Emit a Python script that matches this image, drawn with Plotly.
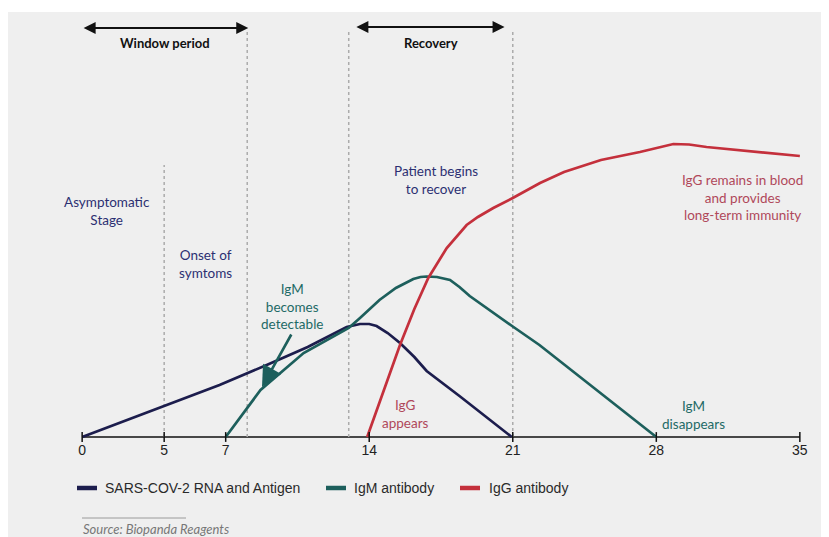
import plotly.graph_objects as go

# ---------------- data ----------------
SARS_X = [0, 4, 6.7, 9, 11, 12.9, 13.55, 14.0, 14.36, 14.9, 15.5, 16.2, 16.8, 18.4, 20.95]
SARS_Y = [0, 31, 52, 72, 90, 110, 113, 113, 111, 104, 94, 80, 66, 41, 0]

IGM_X = [7.0, 8.7, 10.8, 13.0, 13.55, 14.5, 15.3, 15.85, 16.15, 16.5, 16.8, 17.3, 17.94, 18.4, 18.9, 21.0, 22.3, 28.0]
IGM_Y = [0, 47, 84, 109, 119, 137, 149, 155, 158, 160, 160.5, 160, 157, 150, 141, 110.5, 92, 0]

IGG_X = [13.9, 14.7, 15.5, 16.2, 16.88, 17.78, 18.75, 19.3, 20.05, 21.0, 22.33, 23.5, 25.3, 27.2, 28.0, 28.83, 29.6, 30.45, 35.0]
IGG_Y = [0, 45, 92, 128, 159, 189, 212, 220, 229, 239, 254, 265, 277, 285, 289, 293, 292.5, 290, 281]

SERIES_NAMES = ["SARS-COV-2 RNA and Antigen", "IgM antibody", "IgG antibody"]
SERIES_COLORS = ["#1c1d4d", "#1d5f5c", "#c4303c"]

TICK_POS = [0, 4, 7, 14, 21, 28, 35]
TICK_LABELS = ["0", "5", "7", "14", "21", "28", "35"]

# dotted phase markers: (day position, top height)
MARKERS_X = [4, 8.05, 13.0, 21.0]
MARKERS_TOP = [272, 407, 407, 407]

NAVY_T = "#2c2f72"
TEAL_T = "#1e6a66"
RED_T = "#b0485a"

FONT = "Lato, 'Open Sans', sans-serif"
SANS = "'Liberation Sans', Arial, sans-serif"

# ---------------- layout geometry ----------------
OFF = 8                      # page body margin
W, H = 829 - OFF, 537 - OFF
ML, MR, MT, MB = 68, 23, 12, 97
PW, PH = W - ML - MR, H - MT - MB


def paper_x(px):             # page pixel -> paper fraction
    return (px - OFF - ML) / PW


def paper_y(py):
    return (H - MB - (py - OFF)) / PH


fig = go.Figure()

for xs, ys, name, col in zip([SARS_X, IGM_X, IGG_X], [SARS_Y, IGM_Y, IGG_Y], SERIES_NAMES, SERIES_COLORS):
    fig.add_trace(go.Scatter(x=xs, y=ys, mode="lines", name=name,
                             line=dict(color=col, width=2.7), hoverinfo="skip", showlegend=False))

# tick marks crossing the axis line
fig.add_trace(go.Scatter(x=TICK_POS, y=[0] * len(TICK_POS), mode="markers",
                         marker=dict(symbol="line-ns", size=7, line=dict(color="#111", width=1.5)),
                         hoverinfo="skip", showlegend=False, cliponaxis=False))

shapes = []
# white strip at the top
shapes.append(dict(type="rect", xref="paper", yref="paper",
                   x0=paper_x(0), x1=paper_x(840), y0=paper_y(12), y1=paper_y(0),
                   fillcolor="white", line=dict(width=0), layer="below"))
# axis line
shapes.append(dict(type="line", xref="x", yref="y", x0=0, x1=35, y0=0, y1=0,
                   line=dict(color="#111", width=1.5), layer="below"))
for mx, mt in zip(MARKERS_X, MARKERS_TOP):
    shapes.append(dict(type="line", xref="x", yref="y", x0=mx, x1=mx, y0=0, y1=mt,
                       line=dict(color="#ababab", width=1.5, dash="dot"), layer="below"))

# manual legend
LEG_SW = [(77, 97), (326, 346), (460, 480)]
LEG_TX = [103, 352, 487]
LEG_Y = 488
for (a, b), col in zip(LEG_SW, SERIES_COLORS):
    shapes.append(dict(type="line", xref="paper", yref="paper",
                       x0=paper_x(a), x1=paper_x(b), y0=paper_y(LEG_Y), y1=paper_y(LEG_Y),
                       line=dict(color=col, width=4.5)))
# source rule
shapes.append(dict(type="line", xref="paper", yref="paper",
                   x0=paper_x(82), x1=paper_x(186), y0=paper_y(518), y1=paper_y(518),
                   line=dict(color="#9a9a9a", width=1)))

ann = []


def txt(x, y, text, color, size=13.5, bold=False, **kw):
    t = f"<b>{text}</b>" if bold else text
    d = dict(x=x, y=y, xref="x", yref="y", text=t, showarrow=False,
             font=dict(family=FONT, size=size, color=color), align="center")
    d.update(kw)
    ann.append(d)


# double-headed period arrows
for x0, x1, yy in [(0, 8.1, 409), (13.3, 20.6, 410)]:
    ann.append(dict(x=x1, y=yy, ax=x0, ay=yy, xref="x", yref="y", axref="x", ayref="y",
                    text="", showarrow=True, arrowside="end+start", arrowhead=2,
                    arrowsize=1.2, arrowwidth=2, arrowcolor="#111", standoff=0, startstandoff=0))

txt(4.05, 394, "Window period", "#111", 13, bold=True)
txt(17.0, 394, "Recovery", "#111", 13, bold=True)
txt(-2.54, 202, "DAYS SINCE INFECTION", "#111", 13, bold=True, textangle=-90)
txt(1.22, 226, "Asymptomatic<br>Stage", NAVY_T)
txt(6.0, 173, "Onset of<br>symtoms", NAVY_T)
txt(10.24, 131, "IgM<br>becomes<br>detectable", TEAL_T)
txt(17.26, 257, "Patient begins<br>to recover", NAVY_T)
txt(32.2, 240, "IgG remains in blood<br>and provides<br>long-term immunity", RED_T)
txt(15.75, 23, "IgG<br>appears", RED_T)
txt(29.83, 22, "IgM<br>disappears", TEAL_T)

# IgM pointer arrow
ann.append(dict(x=8.77, y=50, ax=10.24, ay=104, xref="x", yref="y", axref="x", ayref="y",
                text="", showarrow=True, arrowhead=2, arrowsize=1.6, arrowwidth=2.6,
                arrowcolor="#1d5f5c", standoff=0))

# legend texts
for name, px in zip(SERIES_NAMES, LEG_TX):
    ann.append(dict(x=paper_x(px), y=paper_y(LEG_Y), xref="paper", yref="paper", text=name,
                    showarrow=False, xanchor="left", yanchor="middle",
                    font=dict(family=SANS, size=14, color="#2a2a2a")))

ann.append(dict(x=paper_x(81), y=paper_y(529), xref="paper", yref="paper",
                text="<i>Source: Biopanda Reagents</i>", showarrow=False,
                xanchor="left", yanchor="middle",
                font=dict(family=FONT, size=13, color="#777")))

fig.update_layout(
    width=W, height=H,
    margin=dict(l=ML, r=MR, t=MT, b=MB),
    paper_bgcolor="#efefef",
    plot_bgcolor="rgba(0,0,0,0)",
    shapes=shapes,
    annotations=ann,
    showlegend=False,
    xaxis=dict(range=[-0.3, 35.3], showgrid=False, zeroline=False, showline=False,
               tickvals=TICK_POS, ticktext=TICK_LABELS, ticks="",
               tickfont=dict(family=SANS, size=14, color="#222"), fixedrange=True),
    yaxis=dict(range=[-3, 417], showgrid=False, zeroline=False, showline=False,
               showticklabels=False, ticks="", fixedrange=True),
)

fig.write_html("out.html")
